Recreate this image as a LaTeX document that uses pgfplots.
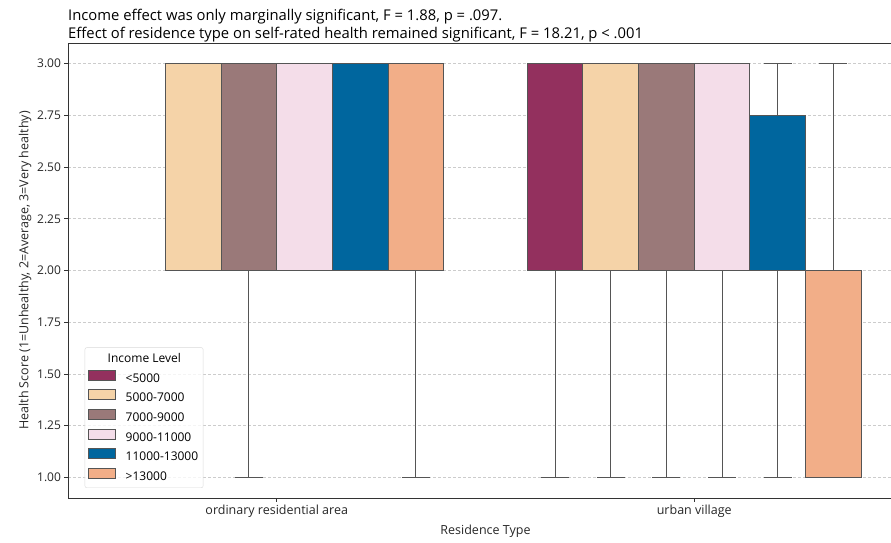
\documentclass[border=0pt]{standalone}
\usepackage{pgfplots}
\pgfplotsset{compat=1.18}
\usepgfplotslibrary{statistics}
\usepackage{fontspec}
\setmainfont{Open Sans}
\definecolor{cA}{RGB}{147,48,94}
\definecolor{cB}{RGB}{245,211,168}
\definecolor{cC}{RGB}{154,121,121}
\definecolor{cD}{RGB}{244,221,233}
\definecolor{cE}{RGB}{0,102,158}
\definecolor{cF}{RGB}{242,174,136}
\definecolor{edge}{RGB}{85,85,85}
\definecolor{spine}{RGB}{51,51,51}
\pgfplotsset{
  bx/.style={boxplot prepared={#1}, draw=edge, line width=1.1pt, solid,
    boxplot/draw direction=y,
    boxplot/box extend=0.1333, boxplot/whisker extend=0.0667, forget plot},
}
\begin{document}
\begin{tikzpicture}
\useasboundingbox (-68pt,-45pt) rectangle (823pt,498pt);
\begin{axis}[
  scale only axis, width=835pt, height=455pt,
  xmin=-0.5, xmax=1.5, ymin=0.9, ymax=3.1,
  clip=false,
  xtick={0,1}, xticklabels={ordinary residential area, urban village},
  ytick={1,1.25,1.5,1.75,2,2.25,2.5,2.75,3},
  yticklabel style={/pgf/number format/fixed, /pgf/number format/fixed zerofill,
    /pgf/number format/precision=2, font=\fontsize{12}{14}\selectfont, text=black!85},
  /pgf/number format/assume math mode=true,
  tick align=outside, tick pos=left, major tick length=3.5pt,
  every tick/.style={spine, line width=0.8pt},
  axis line style={spine, line width=0.8pt},
  xticklabel style={font=\fontsize{12.5}{14}\selectfont, text=black!85},
  ymajorgrids, grid style={gray!40, line width=0.6pt, dash pattern=on 3pt off 2pt},
  xlabel={Residence Type}, ylabel={Health Score (1=Unhealthy, 2=Average, 3=Very healthy)},
  label style={font=\fontsize{12.5}{14}\selectfont, text=black!85},
  xlabel style={yshift=-1pt}, ylabel style={yshift=-1pt},
  legend style={at={(0.02,0.022)}, anchor=south west, draw=gray!30, rounded corners=2pt,
    fill=white, fill opacity=0.8, draw opacity=1, text opacity=1,
    font=\fontsize{12}{14}\selectfont, row sep=3.6pt, inner xsep=3pt, inner ysep=4pt,
    /tikz/every odd column/.append style={column sep=8pt}},
  legend cell align=left,
  legend image code/.code={\draw[sharp corners,fill opacity=1,#1] (0pt,-1.5pt) rectangle (27pt,8.5pt);},
]
% ordinary residential area (position 0); no <5000 group
\addplot[bx={draw position=-0.2, lower whisker=2, lower quartile=2, median=3, upper quartile=3, upper whisker=3}, fill=cB] coordinates {};
\addplot[bx={draw position=-0.0667, lower whisker=1, lower quartile=2, median=3, upper quartile=3, upper whisker=3}, fill=cC] coordinates {};
\addplot[bx={draw position=0.0667, lower whisker=2, lower quartile=2, median=3, upper quartile=3, upper whisker=3}, fill=cD] coordinates {};
\addplot[bx={draw position=0.2, lower whisker=2, lower quartile=2, median=3, upper quartile=3, upper whisker=3}, fill=cE] coordinates {};
\addplot[bx={draw position=0.3333, lower whisker=1, lower quartile=2, median=3, upper quartile=3, upper whisker=3}, fill=cF] coordinates {};
% urban village (position 1)
\addplot[bx={draw position=0.6667, lower whisker=1, lower quartile=2, median=3, upper quartile=3, upper whisker=3}, fill=cA] coordinates {};
\addplot[bx={draw position=0.8, lower whisker=1, lower quartile=2, median=3, upper quartile=3, upper whisker=3}, fill=cB] coordinates {};
\addplot[bx={draw position=0.9333, lower whisker=1, lower quartile=2, median=3, upper quartile=3, upper whisker=3}, fill=cC] coordinates {};
\addplot[bx={draw position=1.0667, lower whisker=1, lower quartile=2, median=3, upper quartile=3, upper whisker=3}, fill=cD] coordinates {};
\addplot[bx={draw position=1.2, lower whisker=1, lower quartile=2, median=2, upper quartile=2.75, upper whisker=3}, fill=cE] coordinates {};
\addplot[bx={draw position=1.3333, lower whisker=1, lower quartile=1, median=2, upper quartile=2, upper whisker=3}, fill=cF] coordinates {};
% legend
\addlegendimage{empty legend}
\addlegendentry{\hspace{-18pt}Income Level}
\addlegendimage{fill=cA, draw=edge, line width=0.8pt}\addlegendentry{<5000}
\addlegendimage{fill=cB, draw=edge, line width=0.8pt}\addlegendentry{5000-7000}
\addlegendimage{fill=cC, draw=edge, line width=0.8pt}\addlegendentry{7000-9000}
\addlegendimage{fill=cD, draw=edge, line width=0.8pt}\addlegendentry{9000-11000}
\addlegendimage{fill=cE, draw=edge, line width=0.8pt}\addlegendentry{11000-13000}
\addlegendimage{fill=cF, draw=edge, line width=0.8pt}\addlegendentry{>13000}
\node[anchor=south west, align=left, inner sep=0pt, font=\fontsize{14.8}{18}\selectfont]
  at (rel axis cs:0,1) [yshift=1pt] {Income effect was only marginally significant, F = 1.88, p = .097.\\Effect of residence type on self-rated health remained significant, F = 18.21, p < .001};
\end{axis}
\end{tikzpicture}
\end{document}
